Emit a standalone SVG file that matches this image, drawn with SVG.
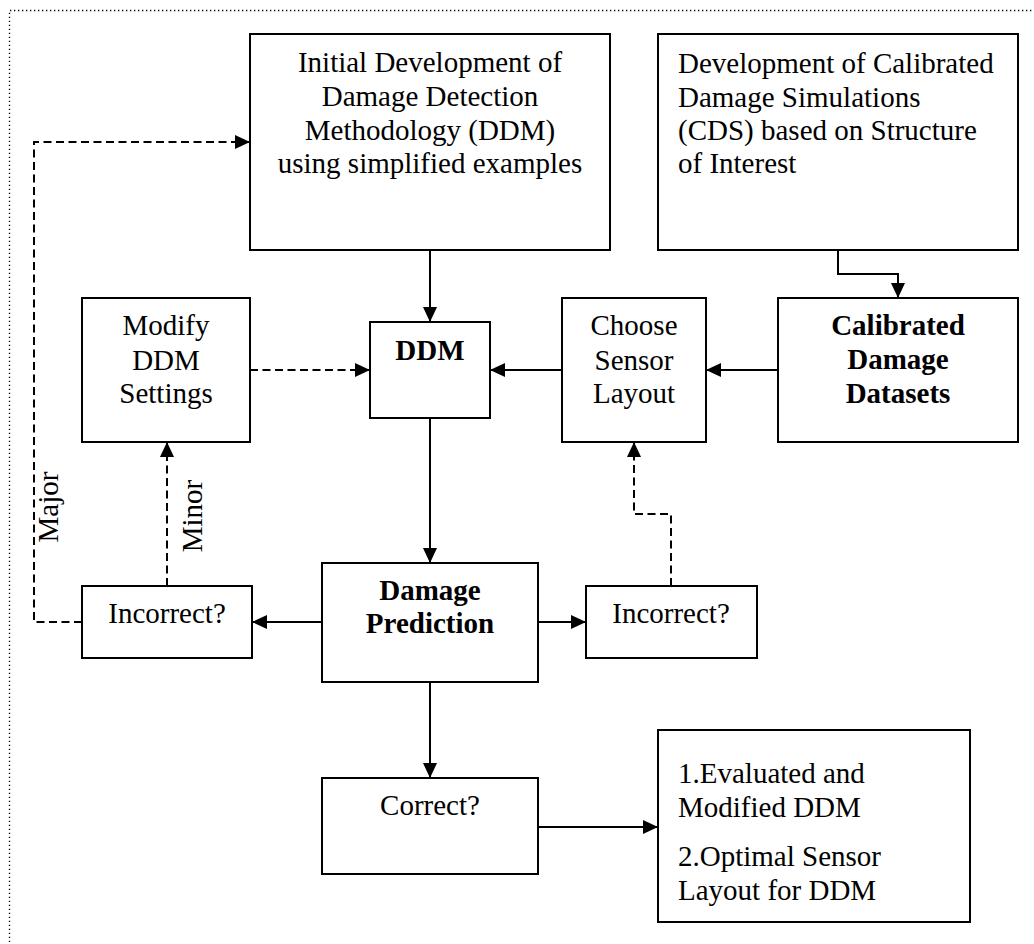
<svg xmlns="http://www.w3.org/2000/svg" width="1034" height="944" viewBox="0 0 1034 944">
<defs>
<style>
.box{fill:#fff;stroke:#000;stroke-width:2}
.t{font-family:"Liberation Serif","Times New Roman",serif;font-size:29px;fill:#000}
.c{text-anchor:middle}
.b{font-weight:bold}
.ln{fill:none;stroke:#000;stroke-width:2}
.d{stroke-dasharray:8 4.5}
</style>
<marker id="ah" viewBox="0 0 15 14" refX="15" refY="7" markerWidth="15" markerHeight="14" markerUnits="userSpaceOnUse" orient="auto">
<path d="M0,0 L15,7 L0,14 Z" fill="#000"/>
</marker>
</defs>
<rect width="1034" height="944" fill="#fff"/>
<path d="M9.5,950 V10.5 H1040" fill="none" stroke="#000" stroke-width="1.3" stroke-dasharray="1.3 2.7"/>

<g id="connectors">
<path class="ln" d="M430,250 V322" marker-end="url(#ah)"/>
<path class="ln" d="M838,250 V274 H898 V298" marker-end="url(#ah)"/>
<path class="ln" d="M778,370 H706" marker-end="url(#ah)"/>
<path class="ln" d="M562,370 H490" marker-end="url(#ah)"/>
<path class="ln d" d="M250,370 H370" marker-end="url(#ah)"/>
<path class="ln" d="M430,418 V563" marker-end="url(#ah)"/>
<path class="ln" d="M322,622 H252" marker-end="url(#ah)"/>
<path class="ln" d="M538,622 H586" marker-end="url(#ah)"/>
<path class="ln d" d="M671,586 V514 H634 V442" marker-end="url(#ah)"/>
<path class="ln d" d="M167,586 V442" marker-end="url(#ah)"/>
<path class="ln d" d="M82,622 H34 V142 H250" marker-end="url(#ah)"/>
<path class="ln" d="M430,682 V778" marker-end="url(#ah)"/>
<path class="ln" d="M538,827 H658" marker-end="url(#ah)"/>
<text class="t c" transform="translate(58,507) rotate(-90)">Major</text>
<text class="t c" transform="translate(202,516) rotate(-90)">Minor</text>
</g>

<g id="initial-dev">
<rect class="box" x="250" y="34" width="360" height="216"/>
<text class="t c" x="430" y="72">Initial Development of</text>
<text class="t c" x="430" y="106">Damage Detection</text>
<text class="t c" x="430" y="140">Methodology (DDM)</text>
<text class="t c" x="430" y="173">using simplified examples</text>
</g>

<g id="cds-dev">
<rect class="box" x="658" y="34" width="360" height="216"/>
<text class="t" x="678" y="73">Development of Calibrated</text>
<text class="t" x="678" y="107">Damage Simulations</text>
<text class="t" x="678" y="140">(CDS) based on Structure</text>
<text class="t" x="678" y="173">of Interest</text>
</g>

<g id="modify">
<rect class="box" x="82" y="298" width="168" height="144"/>
<text class="t c" x="166" y="335">Modify</text>
<text class="t c" x="166" y="370">DDM</text>
<text class="t c" x="166" y="403">Settings</text>
</g>

<g id="ddm">
<rect class="box" x="370" y="322" width="120" height="96"/>
<text class="t c b" x="430" y="360">DDM</text>
</g>

<g id="choose">
<rect class="box" x="562" y="298" width="144" height="144"/>
<text class="t c" x="634" y="335">Choose</text>
<text class="t c" x="634" y="370">Sensor</text>
<text class="t c" x="634" y="403">Layout</text>
</g>

<g id="calibrated">
<rect class="box" x="778" y="298" width="240" height="144"/>
<text class="t c b" x="898" y="335">Calibrated</text>
<text class="t c b" x="898" y="369">Damage</text>
<text class="t c b" x="898" y="403">Datasets</text>
</g>

<g id="incorrect-left">
<rect class="box" x="82" y="586" width="170" height="72"/>
<text class="t c" x="167" y="623">Incorrect?</text>
</g>

<g id="prediction">
<rect class="box" x="322" y="563" width="216" height="119"/>
<text class="t c b" x="430" y="600">Damage</text>
<text class="t c b" x="430" y="633">Prediction</text>
</g>

<g id="incorrect-right">
<rect class="box" x="586" y="586" width="171" height="72"/>
<text class="t c" x="671" y="623">Incorrect?</text>
</g>

<g id="correct">
<rect class="box" x="322" y="778" width="216" height="96"/>
<text class="t c" x="430" y="815">Correct?</text>
</g>

<g id="result">
<rect class="box" x="658" y="730" width="312" height="192"/>
<text class="t" x="678" y="783">1.Evaluated and</text>
<text class="t" x="678" y="817">Modified DDM</text>
<text class="t" x="678" y="866">2.Optimal Sensor</text>
<text class="t" x="678" y="900">Layout for DDM</text>
</g>
</svg>
